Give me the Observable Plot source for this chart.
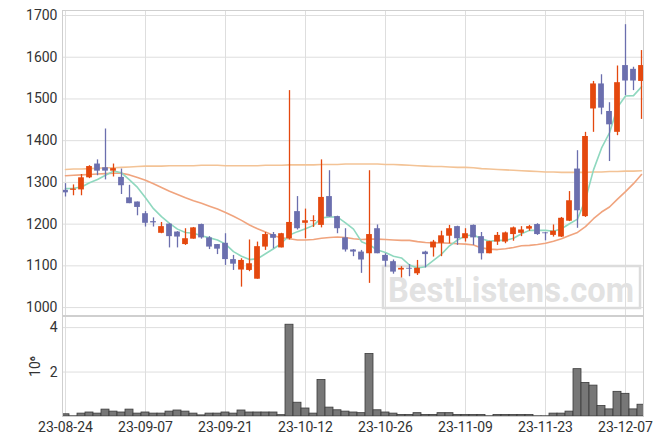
<!DOCTYPE html>
<html><head><meta charset="utf-8">
<script src="https://cdn.jsdelivr.net/npm/d3@7"></script>
<script src="https://cdn.jsdelivr.net/npm/@observablehq/plot@0.6"></script>
<style>
body{margin:0;background:#fff;}
#chart{position:relative;width:663px;height:445px;font-family:Roboto,sans-serif;}
#chart svg{position:absolute;left:0;overflow:visible;}
</style></head><body><div id="chart"></div>
<script>
const dates = ["23-08-24","23-08-25","23-08-28","23-08-29","23-08-30","23-08-31","23-09-01","23-09-04","23-09-05","23-09-06",
"23-09-07","23-09-08","23-09-11","23-09-12","23-09-13","23-09-14","23-09-15","23-09-18","23-09-19","23-09-20",
"23-09-21","23-09-22","23-09-25","23-09-26","23-09-27","23-10-04","23-10-05","23-10-06","23-10-10","23-10-11",
"23-10-12","23-10-13","23-10-16","23-10-17","23-10-18","23-10-19","23-10-20","23-10-23","23-10-24","23-10-25",
"23-10-26","23-10-27","23-10-30","23-10-31","23-11-01","23-11-02","23-11-03","23-11-06","23-11-07","23-11-08",
"23-11-09","23-11-10","23-11-13","23-11-14","23-11-15","23-11-16","23-11-17","23-11-20","23-11-21","23-11-22",
"23-11-23","23-11-24","23-11-27","23-11-28","23-11-29","23-11-30","23-12-01","23-12-04","23-12-05","23-12-06",
"23-12-07","23-12-08","23-12-11"];
const open = [1281,1281,1282,1311,1344,1335,1327,1312,1263,1253,
1225,1206,1178,1200,1181,1151,1164,1199,1167,1151,
1154,1115,1090,1089,1068,1145,1175,1143,1165,1230,
1202,1206,1197,1266,1218,1167,1138,1133,1129,1189,
1125,1110,1090,1094,1081,1133,1143,1154,1171,1194,
1165,1197,1170,1129,1157,1157,1175,1178,1188,1199,
1179,1173,1169,1207,1332,1218,1476,1536,1470,1420,
1580,1571,1542];
const high = [1297,1294,1319,1340,1354,1428,1344,1332,1293,1253,
1230,1215,1204,1201,1182,1189,1192,1200,1170,1151,
1177,1125,1117,1162,1157,1180,1180,1178,1520,1266,
1236,1220,1354,1328,1219,1189,1139,1137,1328,1198,
1129,1114,1098,1103,1113,1135,1161,1183,1197,1195,
1189,1198,1180,1159,1180,1181,1193,1194,1197,1201,
1180,1198,1216,1278,1376,1420,1542,1558,1491,1579,
1678,1576,1616];
const low = [1265,1268,1268,1309,1316,1306,1313,1271,1249,1220,
1193,1193,1177,1143,1143,1149,1164,1164,1139,1127,
1101,1089,1049,1086,1068,1137,1141,1143,1162,1186,
1165,1192,1191,1217,1177,1133,1122,1082,1058,1129,
1097,1080,1071,1074,1077,1095,1121,1122,1153,1149,
1157,1149,1114,1129,1149,1153,1159,1170,1183,1173,
1160,1169,1168,1206,1190,1216,1420,1462,1350,1412,
1508,1520,1451];
const close = [1275,1284,1311,1338,1327,1327,1333,1292,1249,1240,
1202,1203,1194,1170,1169,1165,1191,1167,1145,1140,
1115,1104,1113,1105,1146,1175,1166,1177,1204,1189,
1208,1208,1264,1217,1189,1138,1133,1114,1175,1129,
1111,1085,1094,1092,1094,1127,1157,1172,1189,1165,
1177,1167,1129,1158,1173,1179,1191,1186,1194,1175,
1177,1183,1214,1256,1232,1410,1536,1478,1438,1539,
1543,1543,1580];
// volume in millions of shares
const volume = [0.10,0.01,0.13,0.18,0.13,0.31,0.22,0.18,0.31,0.13,
0.18,0.13,0.13,0.22,0.27,0.22,0.13,0.05,0.13,0.13,
0.18,0.13,0.27,0.18,0.18,0.18,0.18,0.06,4.13,0.62,
0.36,0.13,1.64,0.40,0.28,0.22,0.18,0.15,2.81,0.28,
0.18,0.13,0.07,0.07,0.15,0.07,0.07,0.15,0.15,0.07,
0.07,0.07,0.07,0.01,0.07,0.07,0.07,0.07,0.07,0.01,
0.01,0.13,0.13,0.22,2.13,1.51,1.39,0.47,0.32,1.11,
1.02,0.32,0.53];
const ma5 = [1285,1286,1289,1299,1307,1317,1327,1323,1306,1288,
1263,1237,1218,1202,1188,1180,1178,1172,1167,1162,
1152,1134,1123,1115,1117,1129,1141,1154,1174,1182,
1189,1197,1215,1217,1217,1203,1188,1158,1150,1138,
1132,1123,1119,1102,1095,1098,1113,1128,1148,1162,
1172,1174,1165,1159,1161,1161,1166,1177,1185,1185,
1185,1183,1189,1201,1212,1259,1330,1382,1419,1480,
1507,1508,1529];
const ma20 = [1316,1317,1318,1319,1320,1321,1322,1322,1318,1312,
1305,1297,1288,1279,1271,1263,1256,1250,1243,1236,
1228,1219,1209,1198,1189,1181,1173,1167,1165,1162,
1162,1163,1166,1168,1169,1168,1165,1163,1164,1164,
1163,1162,1161,1161,1158,1156,1155,1155,1154,1153,
1152,1150,1143,1140,1139,1141,1144,1148,1149,1151,
1154,1159,1165,1173,1180,1194,1213,1229,1241,1260,
1278,1297,1319];
const maLong = [1331,1332,1332,1333,1334,1335,1335,1336,1337,1338,
1339,1339,1339,1340,1340,1340,1340,1341,1341,1341,
1340,1340,1340,1340,1340,1341,1341,1341,1342,1342,
1342,1342,1343,1343,1343,1344,1344,1344,1344,1344,
1343,1343,1342,1341,1340,1339,1338,1338,1337,1336,
1336,1335,1333,1332,1331,1330,1329,1328,1327,1326,
1325,1325,1324,1324,1324,1324,1325,1325,1326,1326,
1327,1327,1328];
const xTicks = [0,10,20,30,40,50,60,70];
const priceTicks = [1000,1100,1200,1300,1400,1500,1600,1700];
const volTicks = [2,4];

const rows = dates.map((d,i)=>({i, date:d, open:open[i], high:high[i], low:low[i], close:close[i],
  volume:volume[i], ma5:ma5[i], ma20:ma20[i], maLong:maLong[i], up: close[i] >= open[i]}));
const upRows = rows.filter(d=>d.up), downRows = rows.filter(d=>!d.up);
const UP = "#e4480e", DOWN = "#6b6fae";
const GRID = "#dedede", FRAME = "#cfcfcf";
const xDomain = [-0.375, 72.25];
const style = {fontFamily:"Roboto, sans-serif", fontSize:"14px", color:"#333", background:"transparent", overflow:"visible"};

function watermark(index, scales, values, dim) {
  const g = d3.create("svg:g");
  const right = dim.width - dim.marginRight - 3, bottom = dim.height - dim.marginBottom - 7;
  const w = 257, h = 42;
  g.append("rect").attr("x", right - w).attr("y", bottom - h).attr("width", w).attr("height", h)
    .attr("fill", "none").attr("stroke", "#dcdcdc").attr("stroke-width", 2.5);
  g.append("text").attr("x", right - w + 5).attr("y", bottom - 6)
    .attr("text-anchor", "start")
    .attr("textLength", 246).attr("lengthAdjust", "spacingAndGlyphs")
    .attr("font-family", "Roboto, sans-serif").attr("font-weight", "bold").attr("font-size", 35)
    .attr("fill", "#e2e2e2").text("BestListens.com");
  return g.node();
}

const price = Plot.plot({
  width:663, height:316, marginTop:10, marginBottom:1, marginLeft:62, marginRight:20,
  style,
  x:{type:"linear", domain:xDomain, axis:null},
  y:{domain:[981,1712], ticks:priceTicks, tickSize:0, tickPadding:5, label:null, tickFormat:d=>String(d)},
  marks:[
    Plot.gridX(xTicks,{stroke:GRID, strokeOpacity:1}),
    Plot.gridY(priceTicks,{stroke:GRID, strokeOpacity:1}),
    watermark,
    Plot.line(rows,{x:"i", y:"maLong", stroke:"#f3c396", strokeWidth:1.6}),
    Plot.line(rows,{x:"i", y:"ma20", stroke:"#f0a47e", strokeWidth:1.6}),
    Plot.line(rows,{x:"i", y:"ma5", stroke:"#8fd8bf", strokeWidth:1.6}),
    Plot.ruleX(upRows,{x:"i", y1:"low", y2:"high", stroke:UP, strokeWidth:1.3}),
    Plot.ruleX(downRows,{x:"i", y1:"low", y2:"high", stroke:DOWN, strokeWidth:1.3}),
    Plot.rect(upRows,{x1:d=>d.i-0.36, x2:d=>d.i+0.36, y1:"open", y2:"close", fill:UP}),
    Plot.rect(downRows,{x1:d=>d.i-0.36, x2:d=>d.i+0.36, y1:"open", y2:"close", fill:DOWN}),
    Plot.frame({stroke:FRAME})
  ]
});

const vol = Plot.plot({
  width:663, height:129, marginTop:0, marginBottom:29, marginLeft:62, marginRight:20,
  style,
  x:{type:"linear", domain:xDomain, ticks:xTicks, tickFormat:i=>dates[i], tickSize:0, tickPadding:6, label:null},
  y:{domain:[0,4.5], ticks:volTicks, tickFormat:d=>String(d), tickSize:0, tickPadding:5, label:"10⁶", labelAnchor:"center", labelArrow:"none", labelOffset:32},
  marks:[
    Plot.gridX(xTicks,{stroke:GRID, strokeOpacity:1}),
    Plot.gridY(volTicks,{stroke:GRID, strokeOpacity:1}),
    Plot.rectY(rows,{x1:d=>d.i-0.5, x2:d=>d.i+0.5, y:"volume", fill:"#777", stroke:"#3a3a3a", strokeWidth:0.8, clip:true}),
    Plot.frame({stroke:FRAME})
  ]
});

const chart = document.getElementById("chart");
price.style.top = "0px";
vol.style.top = "316px";
chart.appendChild(price);
chart.appendChild(vol);
</script></body></html>
